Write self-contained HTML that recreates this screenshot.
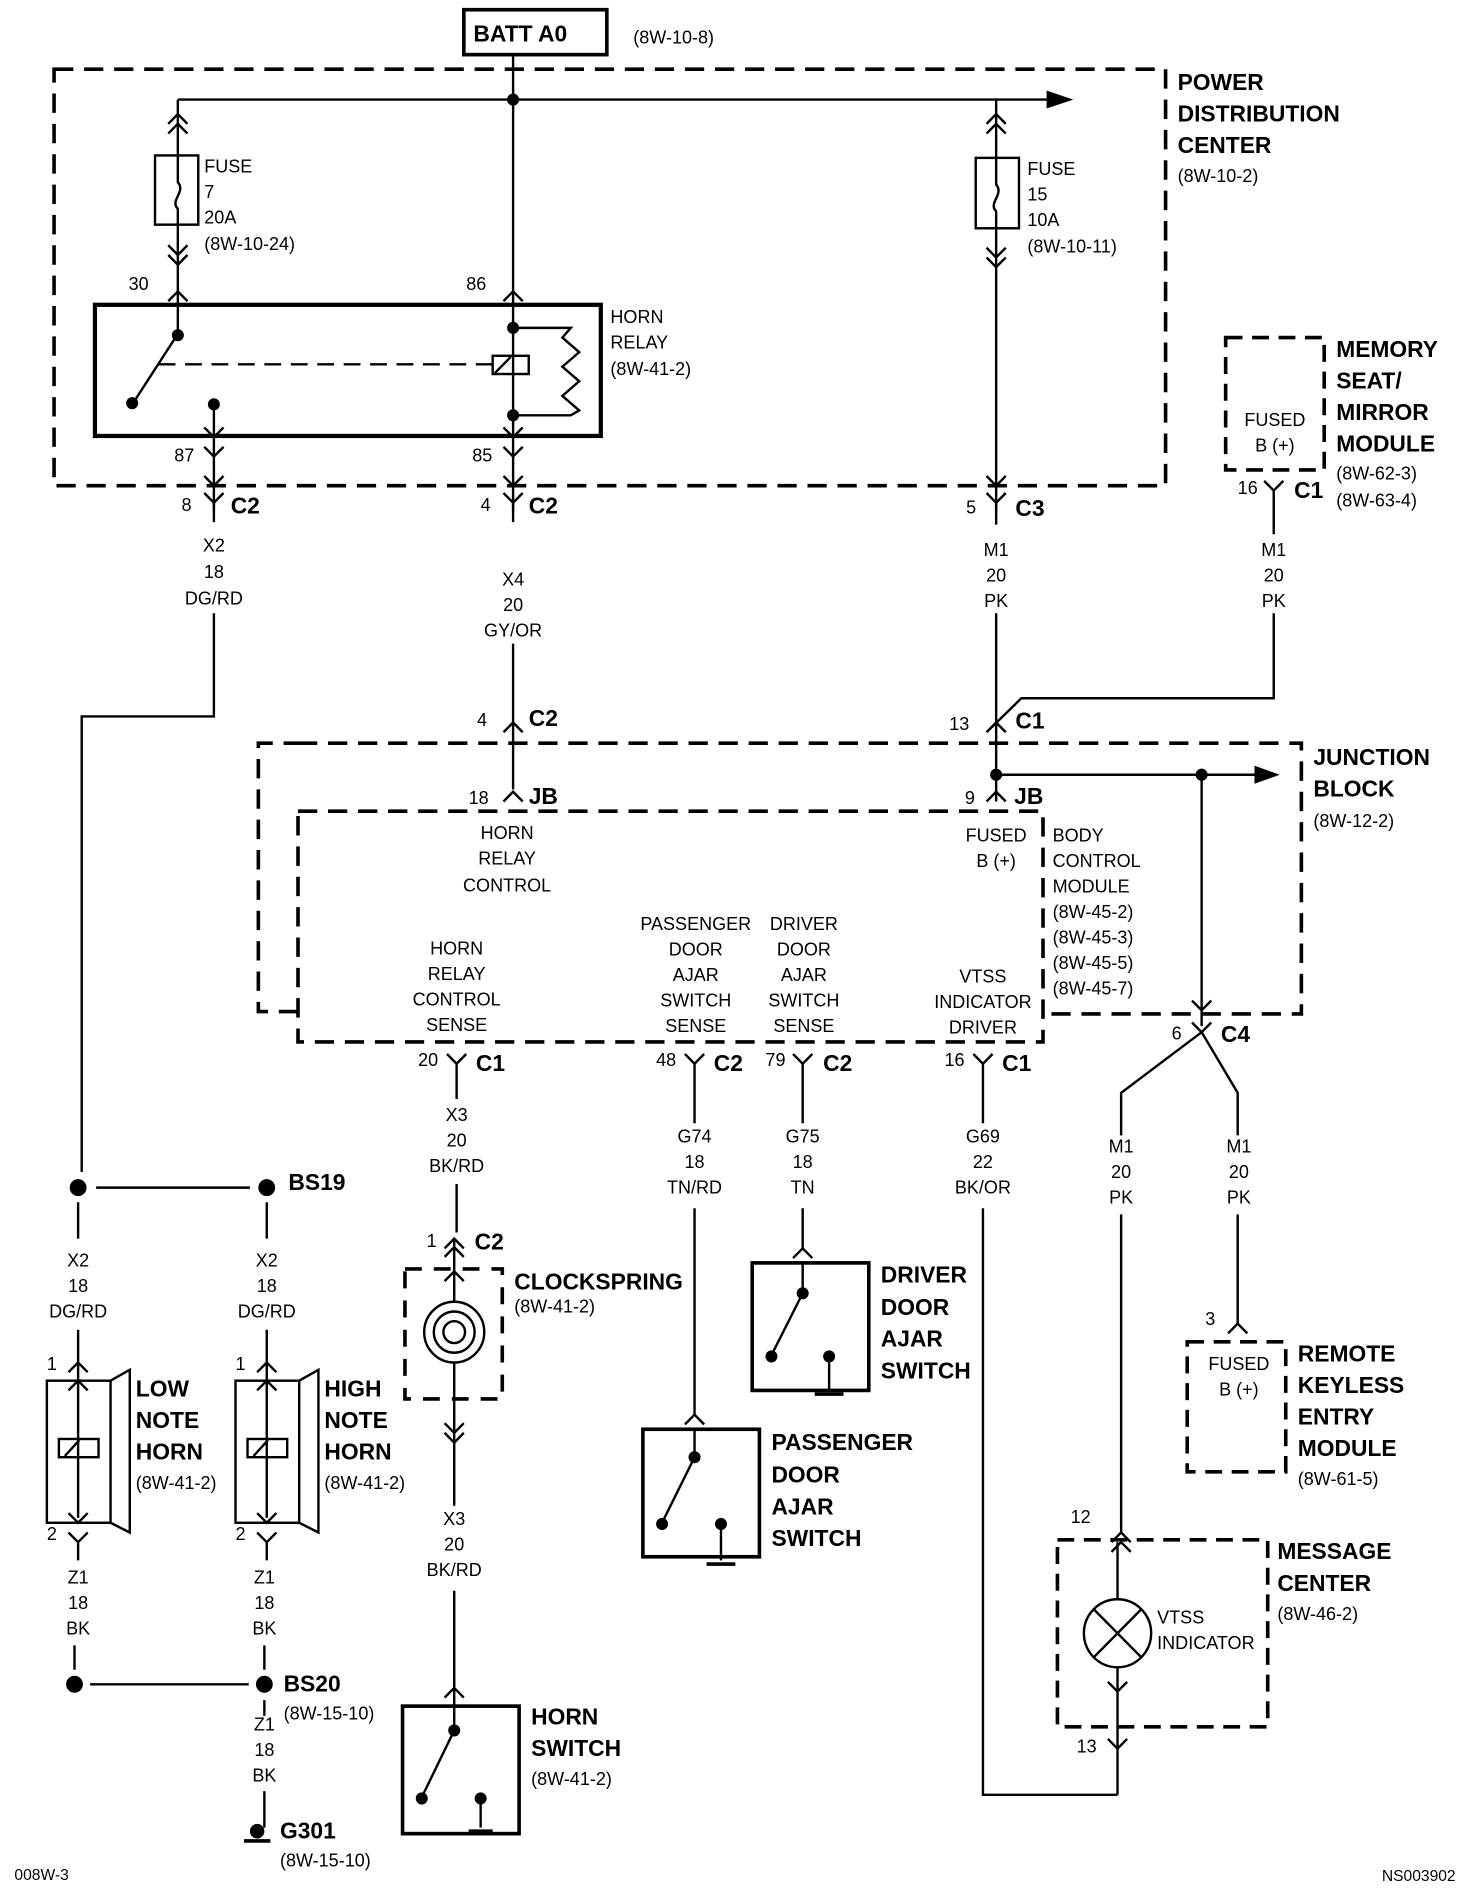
<!DOCTYPE html>
<html><head><meta charset="utf-8"><style>
html,body{margin:0;padding:0;background:#fff}
svg{display:block}
text{font-family:"Liberation Sans",sans-serif;font-size:15px;fill:#000}
.b{font-weight:bold;font-size:19px}
.m{text-anchor:middle}
</style></head><body>
<svg width="1472" height="1898" viewBox="0 0 1225 1563" preserveAspectRatio="none" xmlns="http://www.w3.org/2000/svg">
<g stroke="#000" stroke-width="2" fill="none">
<!-- BATT -->
<rect x="386" y="8" width="119" height="37" stroke-width="3"/>
<!-- PDC dashed -->
<path d="M45 57 H970 V400 H45 Z" stroke-width="3" stroke-dasharray="16 9"/>
<!-- bus -->
<path d="M427 45 V250 M148 82 H880 M148 82 V250"/>
<path d="M872 76 L890 82 L872 88 Z" fill="#000"/>
<circle cx="427" cy="82" r="4" fill="#000"/>
<path d="M140 102 L148 94 L156 102 M140 110 L148 102 L156 110"/>
<rect x="129" y="128" width="36" height="57" fill="#fff"/>
<path d="M148 128 V150 C155 158 141 165 148 172 V185"/>
<path d="M140 202 L148 210 L156 202 M140 210 L148 218 L156 210"/>
<path d="M140 248 L148 240 L156 248 M419 248 L427 240 L435 248"/>
<!-- relay -->
<rect x="79" y="251" width="421" height="108" stroke-width="3.5"/>
<path d="M148 251 V275 L112 330"/>
<circle cx="148" cy="276" r="4" fill="#000"/><circle cx="110" cy="332" r="4" fill="#000"/>
<path d="M132 300 H410" stroke-dasharray="14 8"/>
<rect x="410" y="293" width="30" height="15"/>
<path d="M412 307 L425 294"/>
<path d="M427 251 V420 M427 270 H475 L468 278 L482 290 L468 302 L482 314 L468 326 L482 338 L475 342 H427"/>
<circle cx="427" cy="270" r="4" fill="#000"/><circle cx="427" cy="342" r="4" fill="#000"/>
<circle cx="178" cy="333" r="4" fill="#000"/>
<path d="M178 333 V420 M170 352 L178 360 L186 352 M419 352 L427 360 L435 352"/>
<path d="M170 368 L178 376 L186 368 M419 368 L427 376 L435 368 M170 392 L178 400 L186 392 M419 392 L427 400 L435 392"/>
<!-- fuse 15 -->
<path d="M829 82 V420"/>
<path d="M821 102 L829 94 L837 102 M821 110 L829 102 L837 110"/>
<rect x="812" y="130" width="36" height="58" fill="#fff"/>
<path d="M829 130 V152 C836 160 822 167 829 174 V188"/>
<path d="M821 204 L829 212 L837 204 M821 212 L829 220 L837 212 M821 392 L829 400 L837 392"/>
<!-- C2/C3 connectors -->
<path d="M170 406 L178 414 L186 406 M178 414 V430 M419 406 L427 414 L435 406 M427 414 V430 M821 406 L829 414 L837 406 M829 414 V432"/>
<path d="M178 505 V590 H68 V965 M427 530 V598 M829 505 V605"/>
<path d="M419 603 L427 595 L435 603 M427 595 V650"/>
<!-- memory seat -->
<path d="M1020 278 H1102 V387 H1020 Z" stroke-width="3" stroke-dasharray="14 8"/>
<path d="M1052 396 L1060 404 L1068 396 M1060 404 V440 M1060 505 V575 H850 L821 603 M837 603 L829 595 L821 603"/>
<!-- JB -->
<path d="M248 612 H1083 V835 H868 M248 833 H215 V612 H248" stroke-width="3" stroke-dasharray="16 9"/>
<path d="M248 668 H868 V858 H248 Z" stroke-width="3" stroke-dasharray="16 9"/>
<path d="M419 660 L427 652 L435 660 M829 605 V660 M821 660 L829 652 L837 660 M829 638 H1050"/>
<path d="M1045 632 L1062 638 L1045 644 Z" fill="#000"/>
<circle cx="829" cy="638" r="4" fill="#000"/><circle cx="1000" cy="638" r="4" fill="#000"/>
<path d="M1000 638 V845 M992 824 L1000 832 L1008 824 M992 842 L1000 850 L1008 842 M1000 850 L933 900 V935 M1000 850 L1030 900 V935"/>
<!-- BCM outputs -->
<path d="M372 868 L380 876 L388 868 M380 876 V905 M570 868 L578 876 L586 868 M578 876 V925 M660 868 L668 876 L676 868 M668 876 V925 M810 868 L818 876 L826 868 M818 876 V925"/>
<path d="M380 975 V1015 M578 995 V1165 M668 995 V1028 M818 995 V1478 H930"/>
<!-- keyless -->
<path d="M1030 1000 V1090 M1022 1098 L1030 1090 L1038 1098"/>
<path d="M988 1105 H1070 V1212 H988 Z" stroke-width="3" stroke-dasharray="14 8"/>
<!-- message center -->
<path d="M933 1000 V1262 M925 1270 L933 1262 L941 1270 M925 1278 L933 1270 L941 1278"/>
<path d="M880 1268 H1055 V1422 H880 Z" stroke-width="3" stroke-dasharray="14 8"/>
<path d="M930 1270 V1317 M930 1373 V1478 M922 1385 L930 1393 L938 1385 M922 1432 L930 1440 L938 1432"/>
<circle cx="930" cy="1345" r="28"/>
<path d="M910 1325 L950 1365 M950 1325 L910 1365"/>
<!-- BS19 -->
<path d="M80 978 H208 M65 990 V1020 M222 990 V1020 M65 1095 V1250 M222 1095 V1250"/>
<circle cx="65" cy="978" r="6" fill="#000"/><circle cx="222" cy="978" r="6" fill="#000"/>
<path d="M57 1130 L65 1122 L73 1130 M214 1130 L222 1122 L230 1130 M57 1145 L65 1137 L73 1145 M214 1145 L222 1137 L230 1145"/>
<rect x="39" y="1137" width="53" height="117"/><rect x="196" y="1137" width="53" height="117"/>
<path d="M92 1137 L108 1128 V1262 L92 1254 M249 1137 L265 1128 V1262 L249 1254"/>
<rect x="49" y="1185" width="33" height="15"/><rect x="206" y="1185" width="33" height="15"/>
<path d="M54 1199 L66 1186 M211 1199 L223 1186"/>
<path d="M57 1246 L65 1254 L73 1246 M214 1246 L222 1254 L230 1246 M57 1262 L65 1270 L73 1262 M214 1262 L222 1270 L230 1262 M65 1270 V1285 M222 1270 V1285"/>
<path d="M62 1355 V1375 M220 1355 V1375 M75 1387 H207 M220 1400 V1413 M220 1475 V1505"/>
<circle cx="62" cy="1387" r="6" fill="#000"/><circle cx="220" cy="1387" r="6" fill="#000"/>
<circle cx="214" cy="1508" r="5" fill="#000"/><path d="M203 1516 H225" stroke-width="3"/>
<!-- clockspring -->
<path d="M370 1028 L378 1020 L386 1028 M370 1035 L378 1027 L386 1035 M378 1020 V1240 M370 1055 L378 1047 L386 1055"/>
<path d="M337 1045 H418 V1152 H337 Z" stroke-width="3" stroke-dasharray="14 10"/>
<circle cx="378" cy="1097" r="25" fill="#fff"/>
<circle cx="378" cy="1097" r="17"/><circle cx="378" cy="1097" r="9"/>
<path d="M370 1172 L378 1180 L386 1172 M370 1180 L378 1188 L386 1180"/>
<path d="M378 1310 V1405 M370 1398 L378 1390 L386 1398"/>
<!-- horn switch -->
<rect x="335" y="1405" width="97" height="105" stroke-width="3"/>
<path d="M378 1405 V1425 L352 1478"/>
<circle cx="378" cy="1425" r="4" fill="#000"/><circle cx="351" cy="1481" r="4" fill="#000"/><circle cx="400" cy="1481" r="4" fill="#000"/>
<path d="M400 1481 V1505"/><path d="M390 1508 H410" stroke-width="3"/>
<!-- passenger switch -->
<path d="M570 1173 L578 1165 L586 1173"/>
<rect x="535" y="1177" width="97" height="105" stroke-width="3"/>
<path d="M578 1177 V1200 L552 1252"/>
<circle cx="578" cy="1200" r="4" fill="#000"/><circle cx="551" cy="1255" r="4" fill="#000"/><circle cx="600" cy="1255" r="4" fill="#000"/>
<path d="M600 1255 V1285"/><path d="M588 1288 H612" stroke-width="3"/>
<!-- driver switch -->
<path d="M660 1036 L668 1028 L676 1036"/>
<rect x="626" y="1040" width="97" height="105" stroke-width="3"/>
<path d="M668 1040 V1065 L643 1114"/>
<circle cx="668" cy="1065" r="4" fill="#000"/><circle cx="642" cy="1117" r="4" fill="#000"/><circle cx="690" cy="1117" r="4" fill="#000"/>
<path d="M690 1117 V1145"/><path d="M678 1148 H702" stroke-width="3"/>
</g>
<g>
<text x="394" y="34" class="b">BATT A0</text>
<text x="527" y="36">(8W-10-8)</text>
<text x="980" y="74" class="b">POWER</text><text x="980" y="100" class="b">DISTRIBUTION</text><text x="980" y="126" class="b">CENTER</text><text x="980" y="150">(8W-10-2)</text>
<text x="170" y="142">FUSE</text><text x="170" y="163">7</text><text x="170" y="184">20A</text><text x="170" y="206">(8W-10-24)</text>
<text x="855" y="144">FUSE</text><text x="855" y="165">15</text><text x="855" y="186">10A</text><text x="855" y="208">(8W-10-11)</text>
<text x="107" y="239">30</text><text x="388" y="239">86</text>
<text x="508" y="266">HORN</text><text x="508" y="287">RELAY</text><text x="508" y="309">(8W-41-2)</text>
<text x="145" y="380">87</text><text x="393" y="380">85</text>
<text x="151" y="421">8</text><text x="192" y="423" class="b">C2</text>
<text x="400" y="421">4</text><text x="440" y="423" class="b">C2</text>
<text x="804" y="423">5</text><text x="845" y="425" class="b">C3</text>
<text x="178" y="454" class="m">X2</text><text x="178" y="476" class="m">18</text><text x="178" y="498" class="m">DG/RD</text>
<text x="427" y="482" class="m">X4</text><text x="427" y="503" class="m">20</text><text x="427" y="524" class="m">GY/OR</text>
<text x="829" y="458" class="m">M1</text><text x="829" y="479" class="m">20</text><text x="829" y="500" class="m">PK</text>
<text x="1061" y="351" class="m">FUSED</text><text x="1061" y="372" class="m">B (+)</text>
<text x="1112" y="294" class="b">MEMORY</text><text x="1112" y="320" class="b">SEAT/</text><text x="1112" y="346" class="b">MIRROR</text><text x="1112" y="372" class="b">MODULE</text>
<text x="1112" y="395">(8W-62-3)</text><text x="1112" y="417">(8W-63-4)</text>
<text x="1030" y="407">16</text><text x="1077" y="410" class="b">C1</text>
<text x="1060" y="458" class="m">M1</text><text x="1060" y="479" class="m">20</text><text x="1060" y="500" class="m">PK</text>
<text x="397" y="598">4</text><text x="440" y="598" class="b">C2</text>
<text x="790" y="601">13</text><text x="845" y="600" class="b">C1</text>
<text x="1093" y="630" class="b">JUNCTION</text><text x="1093" y="656" class="b">BLOCK</text><text x="1093" y="681">(8W-12-2)</text>
<text x="390" y="662">18</text><text x="440" y="662" class="b">JB</text>
<text x="803" y="662">9</text><text x="844" y="662" class="b">JB</text>
<text x="422" y="691" class="m">HORN</text><text x="422" y="712" class="m">RELAY</text><text x="422" y="734" class="m">CONTROL</text>
<text x="829" y="693" class="m">FUSED</text><text x="829" y="714" class="m">B (+)</text>
<text x="876" y="693">BODY</text><text x="876" y="714">CONTROL</text><text x="876" y="735">MODULE</text><text x="876" y="756">(8W-45-2)</text><text x="876" y="777">(8W-45-3)</text><text x="876" y="798">(8W-45-5)</text><text x="876" y="819">(8W-45-7)</text>
<text x="380" y="786" class="m">HORN</text><text x="380" y="807" class="m">RELAY</text><text x="380" y="828" class="m">CONTROL</text><text x="380" y="849" class="m">SENSE</text>
<text x="579" y="766" class="m">PASSENGER</text><text x="579" y="787" class="m">DOOR</text><text x="579" y="808" class="m">AJAR</text><text x="579" y="829" class="m">SWITCH</text><text x="579" y="850" class="m">SENSE</text>
<text x="669" y="766" class="m">DRIVER</text><text x="669" y="787" class="m">DOOR</text><text x="669" y="808" class="m">AJAR</text><text x="669" y="829" class="m">SWITCH</text><text x="669" y="850" class="m">SENSE</text>
<text x="818" y="809" class="m">VTSS</text><text x="818" y="830" class="m">INDICATOR</text><text x="818" y="851" class="m">DRIVER</text>
<text x="975" y="856">6</text><text x="1016" y="858" class="b">C4</text>
<text x="348" y="878">20</text><text x="396" y="882" class="b">C1</text>
<text x="546" y="878">48</text><text x="594" y="882" class="b">C2</text>
<text x="637" y="878">79</text><text x="685" y="882" class="b">C2</text>
<text x="786" y="878">16</text><text x="834" y="882" class="b">C1</text>
<text x="380" y="923" class="m">X3</text><text x="380" y="944" class="m">20</text><text x="380" y="965" class="m">BK/RD</text>
<text x="578" y="941" class="m">G74</text><text x="578" y="962" class="m">18</text><text x="578" y="983" class="m">TN/RD</text>
<text x="668" y="941" class="m">G75</text><text x="668" y="962" class="m">18</text><text x="668" y="983" class="m">TN</text>
<text x="818" y="941" class="m">G69</text><text x="818" y="962" class="m">22</text><text x="818" y="983" class="m">BK/OR</text>
<text x="933" y="949" class="m">M1</text><text x="933" y="970" class="m">20</text><text x="933" y="991" class="m">PK</text>
<text x="1031" y="949" class="m">M1</text><text x="1031" y="970" class="m">20</text><text x="1031" y="991" class="m">PK</text>
<text x="1003" y="1091">3</text>
<text x="1031" y="1128" class="m">FUSED</text><text x="1031" y="1149" class="m">B (+)</text>
<text x="1080" y="1121" class="b">REMOTE</text><text x="1080" y="1147" class="b">KEYLESS</text><text x="1080" y="1173" class="b">ENTRY</text><text x="1080" y="1199" class="b">MODULE</text><text x="1080" y="1223">(8W-61-5)</text>
<text x="891" y="1254">12</text>
<text x="1063" y="1284" class="b">MESSAGE</text><text x="1063" y="1310" class="b">CENTER</text><text x="1063" y="1334">(8W-46-2)</text>
<text x="963" y="1337">VTSS</text><text x="963" y="1358">INDICATOR</text>
<text x="896" y="1443">13</text>
<text x="240" y="980" class="b">BS19</text>
<text x="65" y="1043" class="m">X2</text><text x="65" y="1064" class="m">18</text><text x="65" y="1085" class="m">DG/RD</text>
<text x="222" y="1043" class="m">X2</text><text x="222" y="1064" class="m">18</text><text x="222" y="1085" class="m">DG/RD</text>
<text x="39" y="1128">1</text><text x="196" y="1128">1</text>
<text x="113" y="1150" class="b">LOW</text><text x="113" y="1176" class="b">NOTE</text><text x="113" y="1202" class="b">HORN</text><text x="113" y="1226">(8W-41-2)</text>
<text x="270" y="1150" class="b">HIGH</text><text x="270" y="1176" class="b">NOTE</text><text x="270" y="1202" class="b">HORN</text><text x="270" y="1226">(8W-41-2)</text>
<text x="39" y="1268">2</text><text x="196" y="1268">2</text>
<text x="65" y="1304" class="m">Z1</text><text x="65" y="1325" class="m">18</text><text x="65" y="1346" class="m">BK</text>
<text x="220" y="1304" class="m">Z1</text><text x="220" y="1325" class="m">18</text><text x="220" y="1346" class="m">BK</text>
<text x="236" y="1393" class="b">BS20</text><text x="236" y="1416">(8W-15-10)</text>
<text x="220" y="1425" class="m">Z1</text><text x="220" y="1446" class="m">18</text><text x="220" y="1467" class="m">BK</text>
<text x="233" y="1514" class="b">G301</text><text x="233" y="1537">(8W-15-10)</text>
<text x="355" y="1027">1</text><text x="395" y="1029" class="b">C2</text>
<text x="428" y="1062" class="b">CLOCKSPRING</text><text x="428" y="1081">(8W-41-2)</text>
<text x="378" y="1256" class="m">X3</text><text x="378" y="1277" class="m">20</text><text x="378" y="1298" class="m">BK/RD</text>
<text x="442" y="1420" class="b">HORN</text><text x="442" y="1446" class="b">SWITCH</text><text x="442" y="1470">(8W-41-2)</text>
<text x="642" y="1194" class="b">PASSENGER</text><text x="642" y="1221" class="b">DOOR</text><text x="642" y="1247" class="b">AJAR</text><text x="642" y="1273" class="b">SWITCH</text>
<text x="733" y="1056" class="b">DRIVER</text><text x="733" y="1083" class="b">DOOR</text><text x="733" y="1109" class="b">AJAR</text><text x="733" y="1135" class="b">SWITCH</text>
<text x="12" y="1548" style="font-size:13px">008W-3</text>
<text x="1150" y="1549" style="font-size:13px">NS003902</text>
</g>
</svg>
</body></html>
